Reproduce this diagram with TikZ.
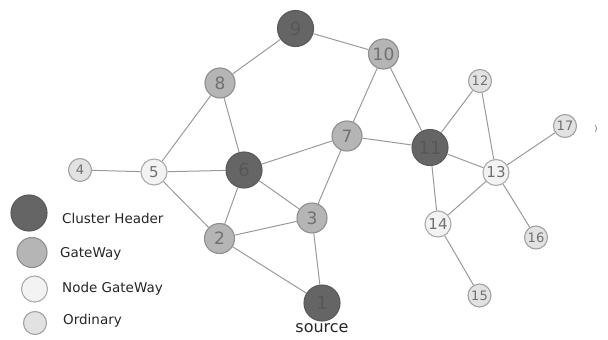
\documentclass[tikz,border=0pt]{standalone}
\usepackage{fontspec}
\setmainfont{DejaVu Sans}
\definecolor{chfill}{HTML}{656565}
\definecolor{chdraw}{HTML}{5A5A5A}
\definecolor{chtext}{HTML}{575757}
\definecolor{gwfill}{HTML}{B5B5B5}
\definecolor{gwdraw}{HTML}{8E8E8E}
\definecolor{ngfill}{HTML}{F3F3F3}
\definecolor{ngdraw}{HTML}{ABABAB}
\definecolor{orfill}{HTML}{E2E2E2}
\definecolor{ordraw}{HTML}{A2A2A2}
\definecolor{edgec}{HTML}{9A9A9A}
\definecolor{numc}{HTML}{707070}
\tikzset{
  base/.style={circle, inner sep=0pt, line width=1.1pt, text=numc},
  chnode/.style={base, fill=chfill, draw=chdraw, minimum size=36pt, text=chtext, font=\fontsize{18}{18}\selectfont},
  gwnode/.style={base, fill=gwfill, draw=gwdraw, minimum size=30pt, font=\fontsize{17}{17}\selectfont},
  ngnode/.style={base, fill=ngfill, draw=ngdraw, minimum size=26pt, font=\fontsize{15}{15}\selectfont},
  ornode/.style={base, fill=orfill, draw=ordraw, minimum size=23pt, font=\fontsize{13}{13}\selectfont},
  link/.style={draw=edgec, line width=1pt},
  legtext/.style={anchor=west, inner sep=0pt, font=\fontsize{13.5}{13.5}\selectfont, text=black!85},
}
\begin{document}
\begin{tikzpicture}[x=1pt, y=-1pt]
\useasboundingbox (0,0) rectangle (608,340);
% nodes
\node[chnode] (n9)  at (295.5,28.5) {9};
\node[gwnode] (n10) at (383.5,54)   {10};
\node[gwnode] (n8)  at (220,83)     {8};
\node[gwnode] (n7)  at (347,136)    {7};
\node[chnode] (n6)  at (244,170)    {6};
\node[gwnode] (n3)  at (312,218)    {3};
\node[gwnode] (n2)  at (219.5,238.5){2};
\node[chnode] (n1)  at (322,303)    {1};
\node[ngnode] (n5)  at (154,172)    {5};
\node[ornode] (n4)  at (80,170)     {4};
\node[chnode] (n11) at (430,147.5)  {11};
\node[ornode] (n12) at (480,81)     {12};
\node[ngnode] (n13) at (496,172.5)  {13};
\node[ngnode] (n14) at (438,224)    {14};
\node[ornode] (n15) at (479.5,295.5){15};
\node[ornode] (n16) at (536,237.5)  {16};
\node[ornode] (n17) at (565,126)    {17};
% edges
\foreach \a/\b in {n9/n8, n9/n10, n10/n7, n10/n11, n8/n5, n8/n6, n5/n4, n5/n6, n5/n2,
                   n6/n7, n6/n2, n6/n3, n2/n3, n2/n1, n3/n1, n3/n7, n7/n11,
                   n11/n12, n11/n13, n11/n14, n12/n13, n13/n17, n13/n14, n13/n16, n14/n15}
  \draw[link] (\a) -- (\b);
% source label
\node[inner sep=0pt, font=\fontsize{16}{16}\selectfont, text=black!85] (src) at (322,328) {source};
% stray mark
\node[inner sep=0pt, font=\fontsize{8}{8}\selectfont, text=black!60] (mark) at (596,129) {)};
% legend
\node[chnode] (lch) at (29,213) {};
\node[gwnode] (lgw) at (32,252.5) {};
\node[ngnode] (lng) at (34.5,289) {};
\node[ornode] (lor) at (35,323) {};
\node[legtext] (tch) at (62,218) {Cluster Header};
\node[legtext] (tgw) at (60,254) {GateWay};
\node[legtext] (tng) at (62,289) {Node GateWay};
\node[legtext] (tor) at (63,321) {Ordinary};
\end{tikzpicture}
\end{document}
